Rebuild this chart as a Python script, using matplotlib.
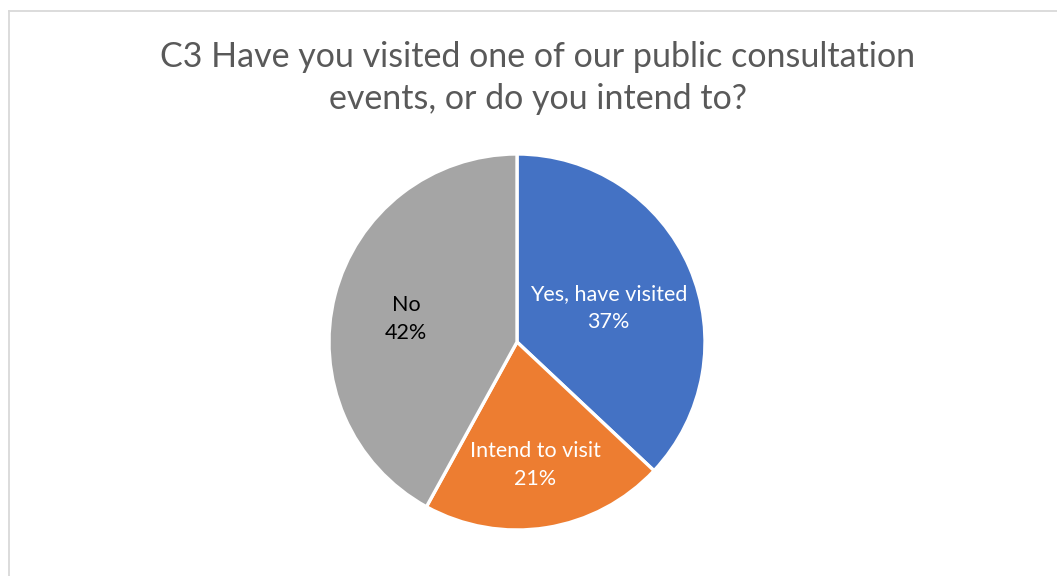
import numpy as np
import matplotlib
matplotlib.use("Agg")
import matplotlib.pyplot as plt
from matplotlib.lines import Line2D

# Antworten auf Frage C3
labels = ["Yes, have visited", "Intend to visit", "No"]
shares = [37, 21, 42]
colors = ["#4472C4", "#ED7D31", "#A5A5A5"]
text_colors = ["white", "white", "black"]
label_radius = [0.53, 0.63, 0.61]

title = "C3 Have you visited one of our public consultation\nevents, or do you intend to?"

plt.rcParams["font.family"] = ["Lato", "DejaVu Sans"]

W, H = 1057, 576
fig = plt.figure(figsize=(W / 100, H / 100), dpi=100)

# Rahmen um den Diagrammbereich (rechts und unten abgeschnitten)
fig.add_artist(Line2D([9 / W, 9 / W], [0, 1 - 11 / H], color="#D9D9D9", lw=1.3))
fig.add_artist(Line2D([9 / W, 1], [1 - 11 / H, 1 - 11 / H], color="#D9D9D9", lw=1.3))

# Kreis: Mitte (517, 342) px, Radius 188 px
cx, cy, r = 517, 342, 188
ax = fig.add_axes([(cx - r) / W, (H - cy - r) / H, 2 * r / W, 2 * r / H])

pct_iter = iter(range(len(shares)))


def fmt(p):
    i = next(pct_iter)
    return f"{labels[i]}\n{shares[i]}%"


wedges, _, autotexts = ax.pie(
    shares,
    colors=colors,
    startangle=90,
    counterclock=False,
    autopct=fmt,
    pctdistance=0.6,
    radius=1,
    wedgeprops=dict(edgecolor="white", linewidth=2.4),
    textprops=dict(fontsize=15.5),
)
# Beschriftungen etwas weiter rein/raus schieben, je nach Segment
for w, t, c, rr in zip(wedges, autotexts, text_colors, label_radius):
    mid = np.deg2rad((w.theta1 + w.theta2) / 2)
    t.set_position((rr * np.cos(mid), rr * np.sin(mid) - 0.03))
    t.set_color(c)
    t.set_linespacing(1.5)

ax.set_xlim(-1, 1)
ax.set_ylim(-1, 1)
ax.set_aspect("equal")
ax.axis("off")

fig.text(538 / W, 1 - 78 / H, title, ha="center", va="center",
         fontsize=24.5, color="#595959", linespacing=1.4)

fig.savefig("out.png", dpi=100)
